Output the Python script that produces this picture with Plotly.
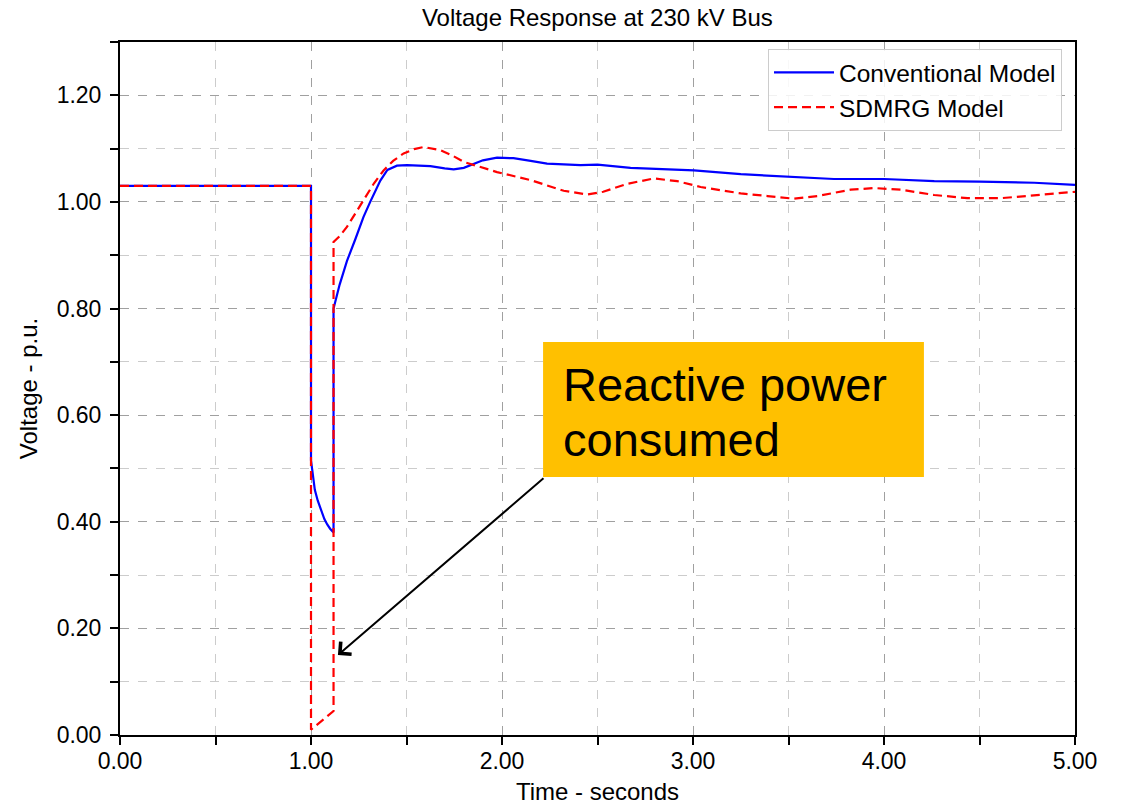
import plotly.graph_objects as go

# ---------------- data ----------------
conv_t = [0.0, 1.0, 1.0, 1.01, 1.02, 1.035, 1.05, 1.07, 1.085, 1.10, 1.118, 1.118,
          1.15, 1.188, 1.232, 1.275, 1.31, 1.363, 1.40, 1.45, 1.503, 1.625, 1.70, 1.747,
          1.80, 1.834, 1.90, 1.974, 2.06, 2.15, 2.236, 2.411, 2.5, 2.673, 2.778, 3.005,
          3.25, 3.503, 3.738, 4.0, 4.263, 4.5, 4.787, 5.0]
conv_v = [1.03, 1.03, 0.515, 0.485, 0.46, 0.44, 0.423, 0.405, 0.395, 0.387, 0.38, 0.80,
          0.845, 0.889, 0.93, 0.972, 1.0, 1.04, 1.06, 1.068, 1.069, 1.067, 1.063, 1.061,
          1.064, 1.069, 1.078, 1.083, 1.082, 1.077, 1.072, 1.069, 1.070, 1.064, 1.062, 1.059,
          1.052, 1.048, 1.043, 1.043, 1.039, 1.038, 1.036, 1.032]

sdmrg_t = [0.0, 1.0, 1.0, 1.118, 1.118, 1.148, 1.188, 1.23, 1.275, 1.33, 1.38, 1.43,
           1.485, 1.54, 1.59, 1.677, 1.74, 1.80, 1.974, 2.149, 2.323, 2.446, 2.53, 2.6,
           2.656, 2.795, 2.917, 3.04, 3.25, 3.39, 3.529, 3.651, 3.826, 3.948, 4.087, 4.263,
           4.437, 4.612, 4.787, 5.0]
sdmrg_v = [1.03, 1.03, 0.01, 0.045, 0.925, 0.935, 0.953, 0.978, 1.004, 1.035, 1.059, 1.077,
           1.091, 1.099, 1.103, 1.097, 1.087, 1.075, 1.056, 1.041, 1.021, 1.014, 1.019, 1.028,
           1.034, 1.044, 1.039, 1.028, 1.016, 1.011, 1.006, 1.011, 1.023, 1.026, 1.023, 1.013,
           1.007, 1.007, 1.013, 1.019]

x_ticks = [0, 1, 2, 3, 4, 5]
y_ticks = [0.0, 0.2, 0.4, 0.6, 0.8, 1.0, 1.2]

title_text = "Voltage Response at 230 kV Bus"
x_title = "Time - seconds"
y_title = "Voltage - p.u."
note_lines = ["Reactive power", "consumed"]

# ---------------- figure ----------------
FONT = "Liberation Sans, Arial, sans-serif"

fig = go.Figure()
fig.add_trace(go.Scatter(x=conv_t, y=conv_v, mode="lines", name="Conventional Model",
                         line=dict(color="#0000ff", width=2.2)))
fig.add_trace(go.Scatter(x=sdmrg_t, y=sdmrg_v, mode="lines", name="SDMRG Model",
                         line=dict(color="#ff0000", width=2.2, dash="9px,5px")))

# annotation box
fig.add_shape(type="rect", xref="x", yref="y", x0=2.215, x1=4.209, y0=0.484, y1=0.737,
              fillcolor="#FFC000", line=dict(width=0), layer="above")
fig.add_annotation(x=2.31, y=0.658, xref="x", yref="y", text=note_lines[0], showarrow=False,
                   xanchor="left", yanchor="middle", font=dict(family=FONT, size=47, color="black"))
fig.add_annotation(x=2.31, y=0.555, xref="x", yref="y", text=note_lines[1], showarrow=False,
                   xanchor="left", yanchor="middle", font=dict(family=FONT, size=47, color="black"))
# arrow
fig.add_annotation(x=1.141, y=0.150, ax=2.225, ay=0.484, xref="x", yref="y", axref="x", ayref="y",
                   text="", showarrow=True, arrowhead=4, arrowsize=1.6, arrowwidth=2, arrowcolor="black")

axis_common = dict(showline=True, linecolor="black", linewidth=2, mirror=True,
                   ticks="outside", ticklen=8, tickwidth=1.5, tickcolor="black",
                   showgrid=True, gridcolor="#a0a0a0", griddash="dash", gridwidth=1,
                   zeroline=False, tickfont=dict(family=FONT, size=23, color="black"),
                   tickformat=".2f", automargin=False)

fig.update_xaxes(range=[0, 5], tickvals=x_ticks, ticklabelstandoff=-4,
                 minor=dict(dtick=0.5, ticks="outside", ticklen=8, tickcolor="black",
                            showgrid=True, gridcolor="#cccccc", griddash="dash", gridwidth=1),
                 title=dict(text=x_title, font=dict(family=FONT, size=24, color="black"), standoff=12),
                 **axis_common)
fig.update_yaxes(range=[0, 1.3], tickvals=y_ticks, ticklabelstandoff=4,
                 minor=dict(dtick=0.1, ticks="outside", ticklen=8, tickcolor="black",
                            showgrid=True, gridcolor="#cccccc", griddash="dash", gridwidth=1),
                 title=dict(text=y_title, font=dict(family=FONT, size=24, color="black"), standoff=12),
                 **axis_common)

fig.update_layout(
    width=1124, height=805,
    margin=dict(l=120, r=49, t=42, b=70, autoexpand=False),
    paper_bgcolor="white", plot_bgcolor="white",
    title=dict(text=title_text, x=0.5315, xanchor="center", y=0.978, yanchor="middle",
               font=dict(family=FONT, size=24, color="black")),
    legend=dict(x=0.9864, xanchor="right", y=0.99, yanchor="top",
                bgcolor="rgba(255,255,255,0.85)", bordercolor="#cccccc", borderwidth=1,
                font=dict(family=FONT, size=24.5, color="black"), itemwidth=60),
    showlegend=True,
)

fig.write_html("out.html", config={"displayModeBar": False},
               post_script="document.body.style.margin='0';document.body.style.overflow='hidden';")
